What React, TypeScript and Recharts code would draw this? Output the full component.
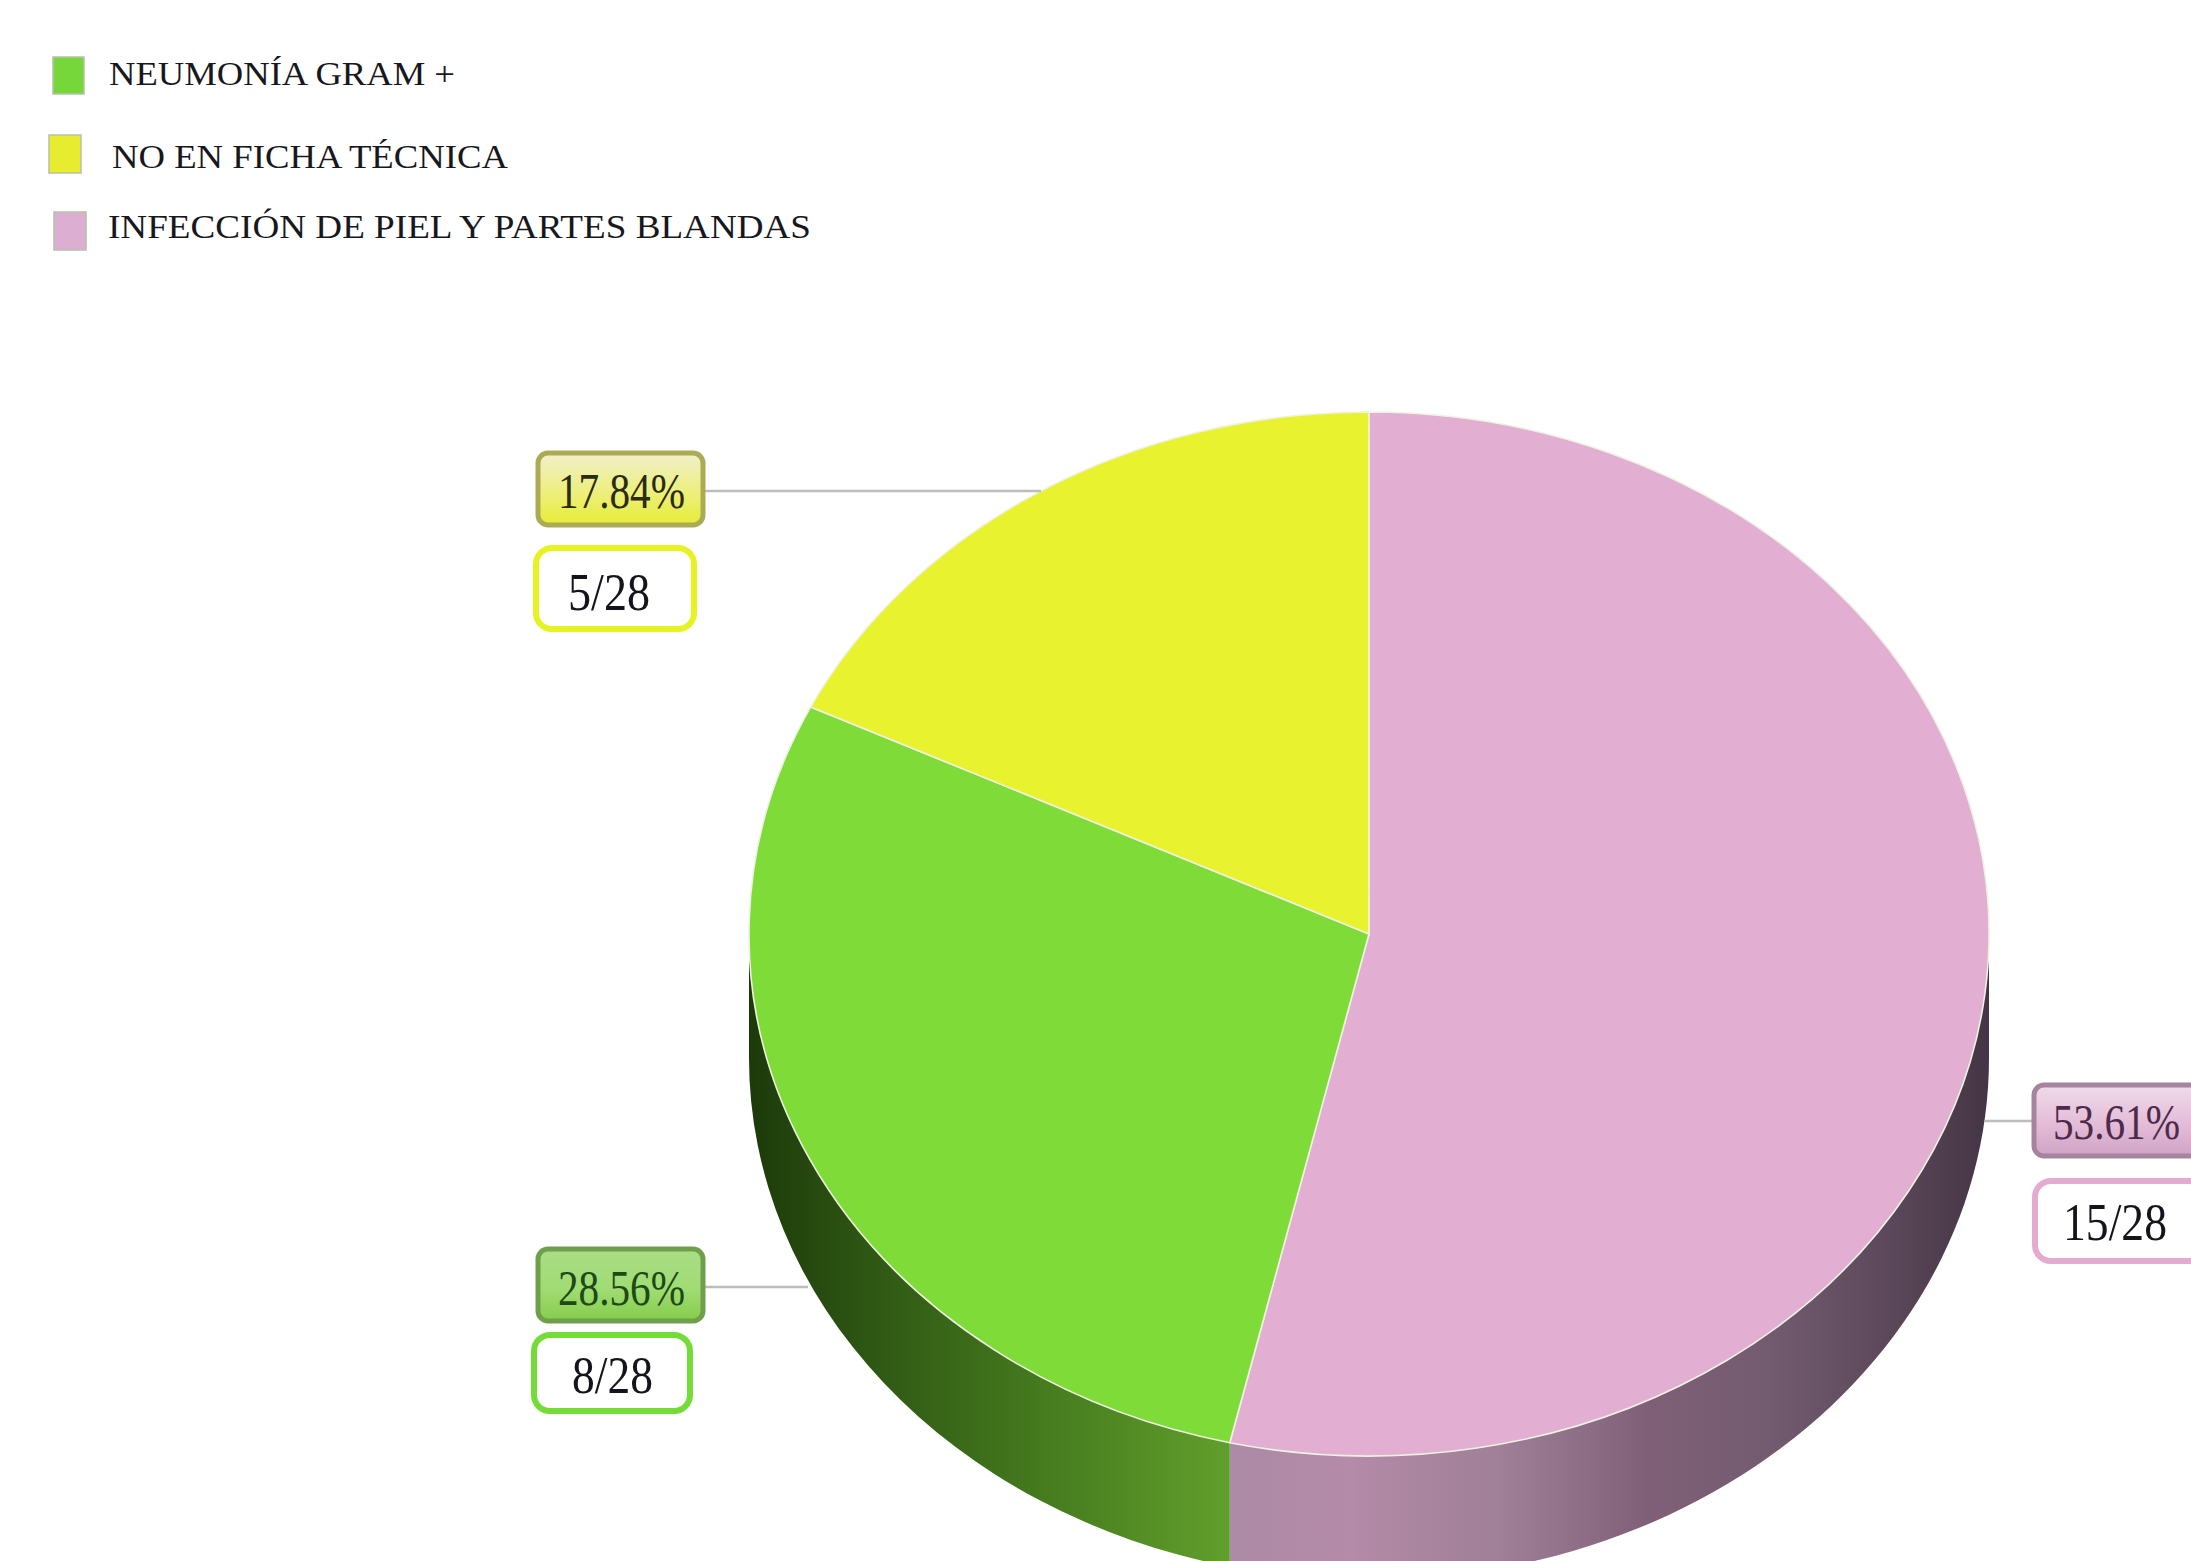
import { Cell, Pie, PieChart } from 'recharts'

const categories = ['INFECCIÓN DE PIEL Y PARTES BLANDAS', 'NEUMONÍA GRAM +', 'NO EN FICHA TÉCNICA']
const percents = [53.61, 28.56, 17.84]
const cases = [15, 8, 5]
const TOTAL_CASES = 28

const chartData = categories.map((name, i) => ({
  name,
  value: percents[i],
  cases: cases[i],
}))

const WIDTH = 2191
const HEIGHT = 1561
const FONT = '"Liberation Serif", "Times New Roman", serif'

// The disc is a circle in Recharts; shapes squash it vertically and extrude it.
const CX = 1369
const CY = 934
const RADIUS = 620
const SQUASH = 522 / 620
const DEPTH = 124

const TOP_FILLS = ['#e2aed2', '#7fdc38', '#e9f22f']
const SIDE_FILLS = ['url(#sidePink)', 'url(#sideGreen)', 'none']

type BoxStyle = {
  x: number
  y: number
  w: number
  h: number
  textX: number
  textW: number
  baseline: number
}

// Callout layout per slice, same order as categories
const pctBoxes: BoxStyle[] = [
  { x: 2034, y: 1085, w: 170, h: 71, textX: 2053, textW: 127, baseline: 1139 },
  { x: 538, y: 1249, w: 165, h: 72, textX: 558, textW: 127, baseline: 1305 },
  { x: 538, y: 453, w: 165, h: 72, textX: 558, textW: 127, baseline: 508 },
]
const fracBoxes: BoxStyle[] = [
  { x: 2035, y: 1181, w: 170, h: 80, textX: 2063, textW: 104, baseline: 1240 },
  { x: 534, y: 1335, w: 156, h: 76, textX: 572, textW: 81, baseline: 1393 },
  { x: 536, y: 548, w: 158, h: 81, textX: 568, textW: 82, baseline: 610 },
]
const connectors = [
  { y: 1121, from: 1985, to: 2033 },
  { y: 1287, from: 704, to: 808 },
  { y: 491, from: 704, to: 1041 },
]
const pctBorders = ['#a5849e', '#6f9f4b', '#abab55']
const pctInk = ['#4b2b49', '#1d4a14', '#2b2b10']
const fracBorders = ['#e4abd0', '#73dc36', '#e6f222']

const legendOrder = [1, 2, 0]
const legendRows = [
  { swatchX: 53, swatchY: 57, swatchW: 31, swatchH: 37, textX: 109, textW: 346, baseline: 85 },
  { swatchX: 49, swatchY: 135, swatchW: 32, swatchH: 38, textX: 112, textW: 396, baseline: 168 },
  { swatchX: 54, swatchY: 212, swatchW: 32, swatchH: 38, textX: 108, textW: 703, baseline: 238 },
]
const legendFills = ['#dcaed1', '#76d73a', '#e8ec2e']

const point = (cx: number, cy: number, r: number, deg: number) => {
  const rad = (deg * Math.PI) / 180
  return [cx + r * Math.cos(rad), cy - r * SQUASH * Math.sin(rad)]
}

function TopSlice({ cx, cy, outerRadius, startAngle, endAngle, fill }: any) {
  const [x0, y0] = point(cx, cy, outerRadius, startAngle)
  const [x1, y1] = point(cx, cy, outerRadius, endAngle)
  const large = Math.abs(endAngle - startAngle) > 180 ? 1 : 0
  const ry = outerRadius * SQUASH
  return (
    <path
      d={`M${cx},${cy} L${x0},${y0} A${outerRadius},${ry} 0 ${large} 1 ${x1},${y1} Z`}
      fill={fill}
      stroke="#eef2e2"
      strokeWidth={1.6}
      strokeLinejoin="round"
    />
  )
}

// Only the front half of the rim is visible, angles run 0 to -180 there
function SideSlice({ cx, cy, outerRadius, startAngle, endAngle, fill }: any) {
  const from = Math.min(startAngle, 0)
  const to = Math.max(endAngle, -180)
  if (from <= to) return null
  const [x0, y0] = point(cx, cy, outerRadius, from)
  const [x1, y1] = point(cx, cy, outerRadius, to)
  const ry = outerRadius * SQUASH
  return (
    <path
      d={`M${x0},${y0} A${outerRadius},${ry} 0 0 1 ${x1},${y1} L${x1},${y1 + DEPTH} A${outerRadius},${ry} 0 0 0 ${x0},${y0 + DEPTH} Z`}
      fill={fill}
    />
  )
}

function Callout({ index, value, cases: count }: any) {
  const pct = pctBoxes[index]
  const frac = fracBoxes[index]
  const line = connectors[index]
  return (
    <g fontFamily={FONT}>
      <line x1={line.from} x2={line.to} y1={line.y} y2={line.y} stroke="#bdbdbd" strokeWidth={2.5} />
      <rect
        x={pct.x}
        y={pct.y}
        width={pct.w}
        height={pct.h}
        rx={10}
        fill={`url(#gloss${index})`}
        stroke={pctBorders[index]}
        strokeWidth={5}
      />
      <text
        x={pct.textX}
        y={pct.baseline}
        fontSize={50}
        fill={pctInk[index]}
        textLength={pct.textW}
        lengthAdjust="spacingAndGlyphs"
      >
        {value.toFixed(2)}%
      </text>
      <rect
        x={frac.x}
        y={frac.y}
        width={frac.w}
        height={frac.h}
        rx={16}
        fill="#fff"
        stroke={fracBorders[index]}
        strokeWidth={6}
      />
      <text
        x={frac.textX}
        y={frac.baseline}
        fontSize={53}
        fill="#14141c"
        textLength={frac.textW}
        lengthAdjust="spacingAndGlyphs"
      >
        {count}/{TOTAL_CASES}
      </text>
    </g>
  )
}

function LegendRows() {
  return (
    <g fontFamily={FONT}>
      {legendOrder.map((catIndex, row) => {
        const r = legendRows[row]
        return (
          <g key={categories[catIndex]}>
            <rect
              x={r.swatchX}
              y={r.swatchY}
              width={r.swatchW}
              height={r.swatchH}
              fill={legendFills[catIndex]}
              stroke="#b9c0a8"
              strokeWidth={1.5}
            />
            <text
              x={r.textX}
              y={r.baseline}
              fontSize={33}
              fill="#17171c"
              textLength={r.textW}
              lengthAdjust="spacingAndGlyphs"
            >
              {categories[catIndex]}
            </text>
          </g>
        )
      })}
    </g>
  )
}

export default function App() {
  return (
    <div style={{ position: 'absolute', left: 0, top: 0, width: WIDTH, height: HEIGHT, background: '#fff' }}>
      <PieChart width={WIDTH} height={HEIGHT} margin={{ top: 0, right: 0, bottom: 0, left: 0 }}>
        <defs>
          <linearGradient id="sideGreen" gradientUnits="userSpaceOnUse" x1={749} x2={1235} y1={0} y2={0}>
            <stop offset="0" stopColor="#1c3a0a" />
            <stop offset="0.25" stopColor="#2f5714" />
            <stop offset="0.6" stopColor="#457a1e" />
            <stop offset="1" stopColor="#62a02c" />
          </linearGradient>
          <linearGradient id="sidePink" gradientUnits="userSpaceOnUse" x1={1235} x2={1990} y1={0} y2={0}>
            <stop offset="0" stopColor="#ad8aa6" />
            <stop offset="0.15" stopColor="#b48ba8" />
            <stop offset="0.35" stopColor="#a07f98" />
            <stop offset="0.55" stopColor="#7f5f77" />
            <stop offset="0.7" stopColor="#745c70" />
            <stop offset="0.85" stopColor="#5e4a5c" />
            <stop offset="1" stopColor="#443544" />
          </linearGradient>
          <linearGradient id="gloss0" x1="0" x2="0" y1="0" y2="1">
            <stop offset="0" stopColor="#efdcea" />
            <stop offset="0.55" stopColor="#e4bcd8" />
            <stop offset="1" stopColor="#cfa3c4" />
          </linearGradient>
          <linearGradient id="gloss1" x1="0" x2="0" y1="0" y2="1">
            <stop offset="0" stopColor="#aadd86" />
            <stop offset="0.55" stopColor="#a0dc74" />
            <stop offset="1" stopColor="#86cc4c" />
          </linearGradient>
          <linearGradient id="gloss2" x1="0" x2="0" y1="0" y2="1">
            <stop offset="0" stopColor="#f0f0cc" />
            <stop offset="0.55" stopColor="#edef7c" />
            <stop offset="1" stopColor="#e6ec34" />
          </linearGradient>
        </defs>

        <LegendRows />

        <Pie
          data={chartData}
          dataKey="value"
          cx={CX}
          cy={CY}
          outerRadius={RADIUS}
          startAngle={90}
          endAngle={-270}
          paddingAngle={0}
          stroke="none"
          shape={SideSlice}
          isAnimationActive={false}
        >
          {SIDE_FILLS.map(fill => (
            <Cell key={fill} fill={fill} />
          ))}
        </Pie>
        <Pie
          data={chartData}
          dataKey="value"
          cx={CX}
          cy={CY}
          outerRadius={RADIUS}
          startAngle={90}
          endAngle={-270}
          paddingAngle={0}
          shape={TopSlice}
          label={Callout}
          labelLine={false}
          isAnimationActive={false}
        >
          {TOP_FILLS.map(fill => (
            <Cell key={fill} fill={fill} />
          ))}
        </Pie>
      </PieChart>
    </div>
  )
}
